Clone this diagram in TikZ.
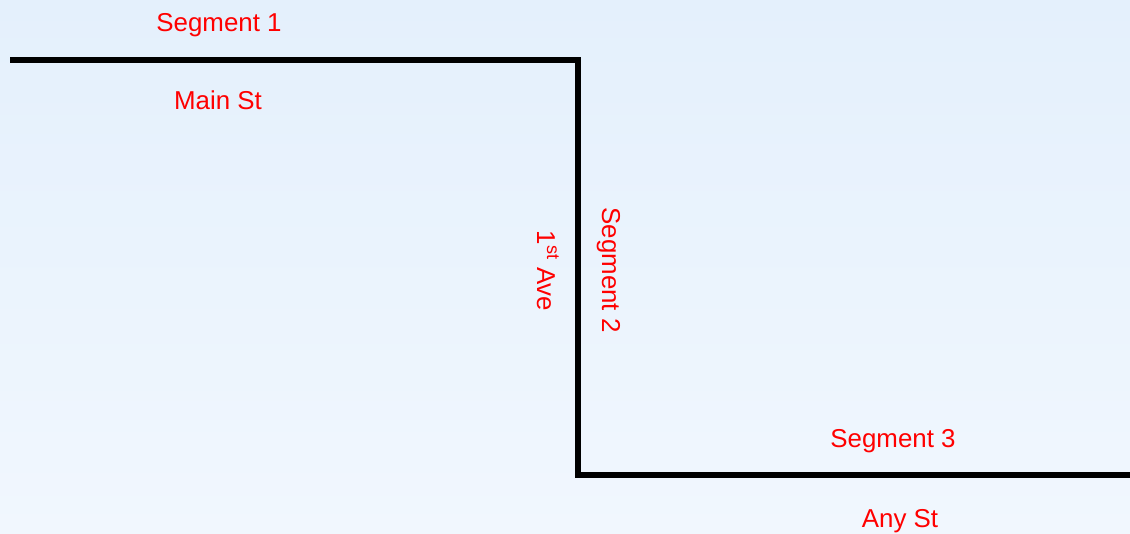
\documentclass[tikz,border=0pt]{standalone}
\usepackage{fontspec}
\setmainfont{Liberation Sans}
\definecolor{bgtop}{RGB}{228,240,252}
\definecolor{bgbot}{RGB}{241,247,254}
\definecolor{lbl}{RGB}{255,0,0}
\begin{document}
\begin{tikzpicture}[x=0.75pt,y=-0.75pt,
  road/.style={line width=4.5pt,black,line join=miter},
  lab/.style={text=lbl,font=\fontsize{19.4}{23}\selectfont,inner sep=0pt,anchor=base}]
\shade[top color=bgtop,bottom color=bgbot] (0,0) rectangle (1130,534);
\useasboundingbox (0,0) rectangle (1130,534);
\coordinate (a) at (10,60);
\coordinate (b) at (578,60);
\coordinate (c) at (578,475);
\coordinate (d) at (1130,475);
\draw[road] (a) -- (b) -- (c) -- (d);
\node[lab] (s1) at (219,32) {Segment 1};
\node[lab] (main) at (218,110) {Main St};
\node[lab,rotate=-90] (ave) at (537,271) {1\textsuperscript{st} Ave};
\node[lab,rotate=-90] (s2) at (602,270) {Segment 2};
\node[lab] (s3) at (893,447) {Segment 3};
\node[lab] (any) at (900,527) {Any St};
\end{tikzpicture}
\end{document}
